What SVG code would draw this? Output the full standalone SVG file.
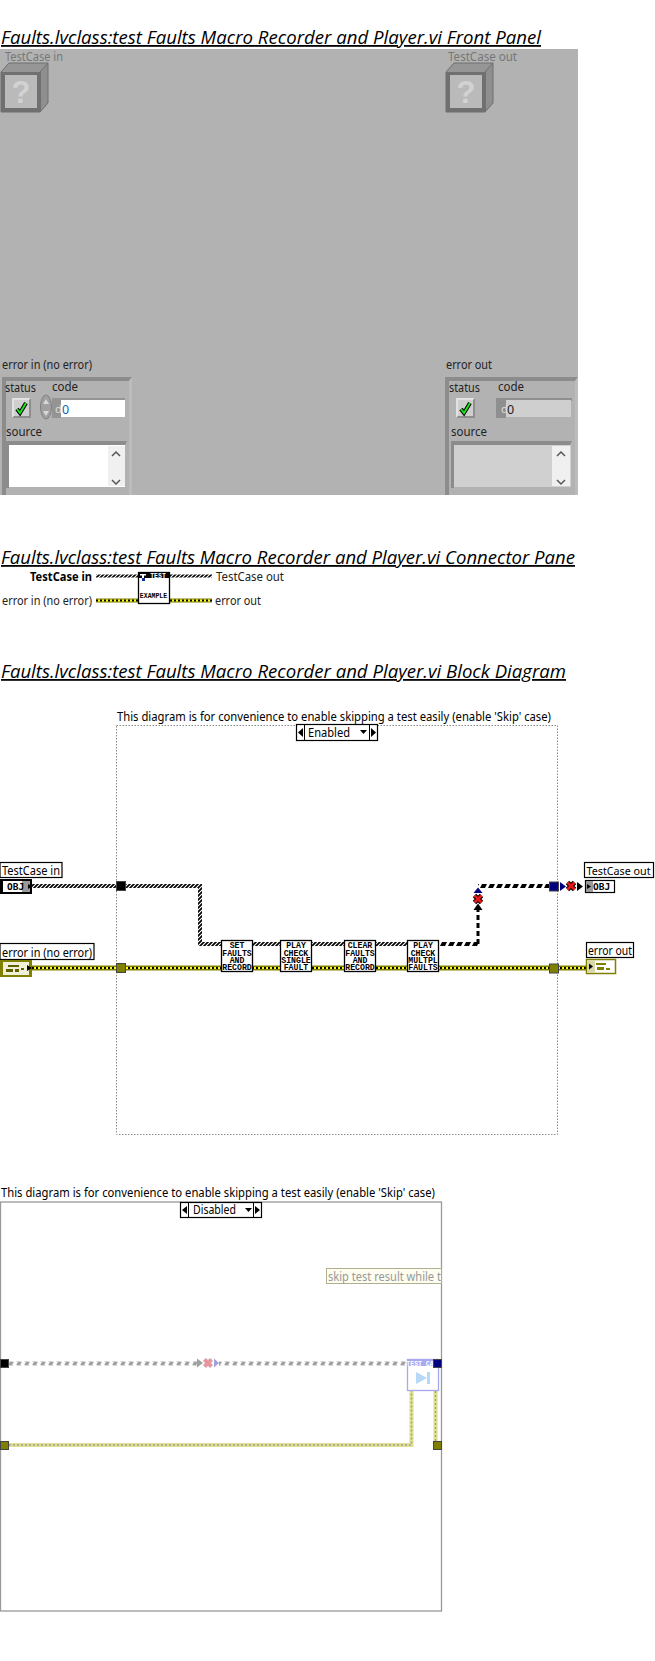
<svg xmlns="http://www.w3.org/2000/svg" width="655" height="1661" viewBox="0 0 655 1661">
<style>
text{font-family:"Noto Sans","Open Sans","Liberation Sans",sans-serif;font-size:12.5px;fill:#000}
.title{font-family:"Open Sans","Noto Sans",sans-serif;font-size:18px;font-style:italic;text-decoration:underline}
.fp{fill:#222}
.dim{fill:#777}
.sub{font-family:"Liberation Mono",monospace;font-size:8.200px;font-weight:bold;text-anchor:middle}
.obj{font-family:"DejaVu Sans Mono",monospace;font-size:9.500px;font-weight:bold}
.node{fill:#fff;stroke:#000;stroke-width:1.3}
.lbl{fill:#fff;stroke:#000;stroke-width:1.2}
.w{fill:none}
.clsA{stroke:url(#stripe);stroke-width:4}
.clsB{stroke:#000;stroke-width:3;stroke-dasharray:5 3}
.clsP{stroke:url(#stripe);stroke-width:3}
.errO{stroke:#808000;stroke-width:5}
.errY{stroke:#ffff20;stroke-width:2}
.errK{stroke:#000;stroke-width:2;stroke-dasharray:2 2}
.fadeO{stroke:#e0e090;stroke-width:4}
.fadeK{stroke:#a0a0a0;stroke-width:1.5;stroke-dasharray:2 2}
.tun{stroke:#444;stroke-width:1}
.dk{fill:#8c8c8c}
.lt{fill:#bcbcbc}
</style>
<defs>
<pattern id="stripe" width="4" height="4" patternUnits="userSpaceOnUse"><rect width="4" height="4" fill="#fff"/><path d="M-1 3L3-1M1 5L5 1" stroke="#000" stroke-width="1.700" fill="none"/></pattern>
<pattern id="blk0" x="0" y="0" width="8" height="4" patternUnits="userSpaceOnUse"><path d="M0 4L2 0H7L5 4Z" fill="#000"/></pattern>
<pattern id="blk2" x="0" y="2" width="8" height="4" patternUnits="userSpaceOnUse"><path d="M0 4L2 0H7L5 4Z" fill="#000"/></pattern>
<pattern id="fadeS" x="0" y="1.500" width="8" height="4" patternUnits="userSpaceOnUse"><path d="M0 4L2 0H6L4 4Z" fill="#a0a0a0"/></pattern>
<g id="unknown">
<path d="M1 18L9 9H48L40 18Z" fill="#969696"/>
<path d="M40 18L48 9V49L40 58Z" fill="#8f8f8f"/>
<path d="M1 18L9 9H48V49L40 58H1Z" fill="none" stroke="#6e6e6e"/>
<path d="M40 18L48 9" stroke="#6e6e6e"/>
<rect x="1" y="18" width="40" height="40" fill="#707070"/>
<rect x="5" y="21" width="32" height="33" fill="#bababa"/>
<text x="21" y="49" text-anchor="middle" style="font-size:31px;font-weight:bold;fill:#d2d2d2;font-family:'Liberation Sans',sans-serif">?</text>
</g>
<g id="check">
<rect x="0" y="0" width="19" height="20" fill="#cfcfcf"/>
<path d="M0 20V0H19L17 2H2V18Z" fill="#e2e2e2"/>
<path d="M0 20H19V0L17 2V18H2Z" fill="#8e8e8e"/>
<path d="M5 11L8 15L14 5" fill="none" stroke="#000" stroke-width="4"/>
<path d="M5 11L8 15L14 5" fill="none" stroke="#20e020" stroke-width="2"/>
</g>
<g id="crossR"><path d="M-3.500-3.500L3.500 3.500M-3.500 3.500L3.500-3.500" stroke="#000" stroke-width="4.800"/><path d="M-3.500-3.500L3.500 3.500M-3.500 3.500L3.500-3.500" stroke="#e81818" stroke-width="2.800"/></g>
<g id="crossF"><path d="M-3.500-3.500L3.500 3.500M-3.500 3.500L3.500-3.500" stroke="#bbb" stroke-width="4.500"/><path d="M-3.500-3.500L3.500 3.500M-3.500 3.500L3.500-3.500" stroke="#f09098" stroke-width="2.800"/></g>
</defs>

<rect width="655" height="1661" fill="#fff"/>

<text class="title" x="1" y="44" textLength="540" lengthAdjust="spacingAndGlyphs">Faults.lvclass:test Faults Macro Recorder and Player.vi Front Panel</text>

<g id="front-panel">
<rect x="0" y="49" width="578" height="446" fill="#b2b2b2"/>
<g id="fp-testcase-in">
<text class="dim" x="5" y="61" textLength="58" lengthAdjust="spacingAndGlyphs">TestCase in</text>
<use href="#unknown" x="0" y="54"/>
</g>
<g id="fp-testcase-out">
<text class="dim" x="448" y="61" textLength="69" lengthAdjust="spacingAndGlyphs">TestCase out</text>
<use href="#unknown" x="445" y="54"/>
</g>
<g id="fp-error-in">
<text class="fp" x="2" y="369" textLength="90" lengthAdjust="spacingAndGlyphs">error in (no error)</text>
<path class="dk" d="M2 495V377H132L129 381H6V495Z"/>
<path class="lt" d="M132 377V495H129V381Z"/>
<text class="fp" x="5" y="392" textLength="31" lengthAdjust="spacingAndGlyphs">status</text>
<text class="fp" x="52" y="391" textLength="26" lengthAdjust="spacingAndGlyphs">code</text>
<use href="#check" x="12" y="398"/>
<ellipse cx="46" cy="407" rx="5.500" ry="12" fill="#a0a0a0" stroke="#808080"/>
<path d="M46 399L43 404H49ZM46 416L43 411H49Z" fill="#d8d8d8"/>
<rect x="52" y="398" width="73" height="3" fill="#949494"/>
<rect x="52" y="398" width="9" height="20" fill="#949494"/>
<rect x="61" y="400" width="64" height="17" fill="#fff"/>
<text x="55" y="413" style="fill:#ddd;font-size:11px">d</text>
<text x="62" y="414" style="fill:#1060c0">0</text>
<text class="fp" x="6" y="436" textLength="36" lengthAdjust="spacingAndGlyphs">source</text>
<path class="dk" d="M6 488V441H127L125 445H9V488Z"/>
<rect x="9" y="445" width="116" height="42" fill="#fff"/>
<rect x="108" y="446" width="17" height="40" fill="#f0f0f0"/>
<path d="M112 456L116 452L120 456M112 480L116 484L120 480" fill="none" stroke="#555" stroke-width="1.500"/>
</g>
<g id="fp-error-out">
<text class="fp" x="446" y="369" textLength="46" lengthAdjust="spacingAndGlyphs">error out</text>
<path class="dk" d="M445 495V377H578L575 381H449V495Z"/>
<path class="lt" d="M578 377V495H575V381Z"/>
<text class="fp" x="449" y="392" textLength="31" lengthAdjust="spacingAndGlyphs">status</text>
<text class="fp" x="498" y="391" textLength="26" lengthAdjust="spacingAndGlyphs">code</text>
<use href="#check" x="456" y="398"/>
<rect x="496" y="398" width="76" height="3" fill="#8f8f8f"/>
<rect x="496" y="398" width="10" height="20" fill="#8f8f8f"/>
<rect x="506" y="400" width="65" height="17" fill="#cfcfcf"/>
<text x="501" y="413" style="fill:#ddd;font-size:11px">d</text>
<text x="507" y="414" style="fill:#222">0</text>
<text class="fp" x="451" y="436" textLength="36" lengthAdjust="spacingAndGlyphs">source</text>
<path class="dk" d="M451 488V441H572L570 445H454V488Z"/>
<rect x="454" y="445" width="117" height="42" fill="#d0d0d0"/>
<rect x="552" y="446" width="18" height="40" fill="#f0f0f0"/>
<path d="M557 456L561 452L565 456M557 480L561 484L565 480" fill="none" stroke="#555" stroke-width="1.500"/>
</g>
</g>

<text class="title" x="1" y="564" textLength="574" lengthAdjust="spacingAndGlyphs">Faults.lvclass:test Faults Macro Recorder and Player.vi Connector Pane</text>

<g id="connector-wires">
<path class="w clsP" d="M96 576H138M170 576H212"/>
<path class="w errO" style="stroke-width:4" d="M96 600.500H138M170 600.500H212"/>
<path class="w errY" d="M96 600.500H138M170 600.500H212"/>
<path class="w errK" d="M96 600.500H138M170 600.500H212"/>

<path class="w clsA" d="M32 886H200V944H221M252 944H280M312 944H344M376 944H407"/>
<path class="w" stroke="url(#blk2)" stroke-width="4" d="M439 944H478"/>
<path class="w clsB" d="M478 944V907"/>
<path class="w" stroke="url(#blk0)" stroke-width="4" d="M478 886H549"/>
<path class="w errO" d="M32 968H586"/>
<path class="w errY" d="M32 968H586"/>
<path class="w errK" d="M32 968H586"/>

<path class="w" stroke="url(#fadeS)" stroke-width="4" d="M9 1363.500H197M219 1363.500H407"/>
<path class="w fadeO" d="M9 1445H411.500V1391M435.500 1391V1441"/>
<path class="w fadeK" d="M9 1445H411.500V1391M435.500 1391V1441"/>
</g>

<g id="connector-pane-icon">
<text x="30" y="581" style="font-weight:bold" textLength="62" lengthAdjust="spacingAndGlyphs">TestCase in</text>
<text class="fp" x="216" y="581" textLength="68" lengthAdjust="spacingAndGlyphs">TestCase out</text>
<text class="fp" x="2" y="605" textLength="90" lengthAdjust="spacingAndGlyphs">error in (no error)</text>
<text class="fp" x="215" y="605" textLength="46" lengthAdjust="spacingAndGlyphs">error out</text>
<rect class="node" x="138.500" y="572.500" width="31" height="31"/>
<rect x="138" y="572" width="32" height="6" fill="#000"/>
<path d="M140 574H146V575.500H144V581H142V575.500H140Z" fill="#fff"/>
<rect x="142" y="578" width="3" height="3" fill="#1030a0"/>
<text class="sub" x="158" y="577.500" style="fill:#fff;font-size:6.500px">TEST</text>
<text class="sub" x="153.500" y="597.500" style="font-size:6.500px">EXAMPLE</text>
</g>

<text class="title" x="1" y="678" textLength="565" lengthAdjust="spacingAndGlyphs">Faults.lvclass:test Faults Macro Recorder and Player.vi Block Diagram</text>

<g id="structure-enabled">
<text x="117" y="721" textLength="434" lengthAdjust="spacingAndGlyphs">This diagram is for convenience to enable skipping a test easily (enable 'Skip' case)</text>
<rect x="116.500" y="725.500" width="441" height="409" fill="none" stroke="#888" stroke-dasharray="1.500 1.500"/>
<rect class="lbl" x="296.500" y="724.500" width="81" height="16"/>
<path d="M304.500 725V740M369.500 725V740" stroke="#000"/>
<path d="M298 732.500L303 728V737ZM376 732.500L371 728V737ZM360 730H367L363.500 734Z" fill="#000"/>
<text x="308" y="737" textLength="42" lengthAdjust="spacingAndGlyphs">Enabled</text>
</g>

<g id="term-testcase-in">
<rect class="lbl" x="0" y="862.500" width="62" height="15"/>
<text x="2" y="875" textLength="58" lengthAdjust="spacingAndGlyphs">TestCase in</text>
<rect x="0" y="879" width="32" height="15" fill="#000"/>
<rect x="3" y="881" width="25" height="11" fill="#fff"/>
<rect x="22" y="881" width="8" height="11" fill="#999"/>
<text class="obj" x="7" y="890">OBJ</text>
<path d="M28 884L32 886.500L28 889Z" fill="#000"/>
</g>
<g id="term-error-in">
<rect class="lbl" x="0" y="943.500" width="94" height="16"/>
<text x="2" y="957" textLength="90" lengthAdjust="spacingAndGlyphs">error in (no error)</text>
<rect x="0" y="960" width="32" height="17" fill="#808000"/>
<rect x="3" y="962" width="26" height="13" fill="#f0f0d8"/>
<path d="M8 965H19V967H8ZM6 969H13V972H6ZM15 969H19V972H15ZM21 968H24V970H21Z" fill="#606000"/>
<path d="M27 965L32 968L27 971Z" fill="#000"/>
</g>
<g id="tunnel-in-class"><rect class="tun" x="116.500" y="881.500" width="9" height="9" fill="#000"/></g>
<g id="tunnel-in-error"><rect class="tun" x="116.500" y="963.500" width="9" height="9" fill="#808000"/></g>

<g id="subvi-set">
<rect class="node" x="221.500" y="940.500" width="31" height="31"/>
<text class="sub" x="237" y="948">SET</text><text class="sub" x="237" y="955.500">FAULTS</text><text class="sub" x="237" y="962.500">AND</text><text class="sub" x="237" y="969.500">RECORD</text>
</g>
<g id="subvi-play-single">
<rect class="node" x="280.500" y="940.500" width="31" height="31"/>
<text class="sub" x="296" y="948">PLAY</text><text class="sub" x="296" y="955.500">CHECK</text><text class="sub" x="296" y="962.500">SINGLE</text><text class="sub" x="296" y="969.500">FAULT</text>
</g>
<g id="subvi-clear">
<rect class="node" x="344.500" y="940.500" width="31" height="31"/>
<text class="sub" x="360" y="948">CLEAR</text><text class="sub" x="360" y="955.500">FAULTS</text><text class="sub" x="360" y="962.500">AND</text><text class="sub" x="360" y="969.500">RECORD</text>
</g>
<g id="subvi-play-multiple">
<rect class="node" x="407.500" y="940.500" width="31" height="31"/>
<text class="sub" x="423" y="948">PLAY</text><text class="sub" x="423" y="955.500">CHECK</text><text class="sub" x="423" y="962.500">MULTPL</text><text class="sub" x="423" y="969.500">FAULTS</text>
</g>

<g id="coercion-vertical">
<path d="M473.500 910L478 903.500L482.500 910Z" fill="#000"/>
<use href="#crossR" x="478" y="899"/>
<path d="M473.500 893L478 887.500L482.500 893Z" fill="#000080"/>
</g>
<g id="tunnel-out-class"><rect class="tun" x="549.500" y="882" width="9" height="9" fill="#000080"/></g>
<g id="tunnel-out-error"><rect class="tun" x="549.500" y="964" width="9" height="9" fill="#808000"/></g>
<g id="coercion-out">
<path d="M560 882L566 886.500L560 891Z" fill="#000080"/>
<use href="#crossR" x="571" y="886"/>
<path d="M577 882L583 886.500L577 891Z" fill="#000"/>
</g>
<g id="term-testcase-out">
<rect class="lbl" x="584.500" y="862.500" width="69" height="15"/>
<text x="586.500" y="875" style="font-size:11px" textLength="64" lengthAdjust="spacingAndGlyphs">TestCase out</text>
<rect class="lbl" x="585.500" y="880.500" width="29" height="12"/>
<rect x="586" y="881" width="7" height="11" fill="#999"/>
<path d="M587 884L591 886.500L587 889Z" fill="#000"/>
<text class="obj" x="593" y="890">OBJ</text>
</g>
<g id="term-error-out">
<rect class="lbl" x="586.500" y="942.500" width="47" height="15"/>
<text x="588" y="955" textLength="44" lengthAdjust="spacingAndGlyphs">error out</text>
<rect x="586.500" y="959.500" width="29" height="14" fill="#fff" stroke="#808000" stroke-width="1.500"/>
<rect x="587" y="960" width="8" height="13" fill="#d8d8a8"/>
<path d="M589 963.500L593 966.500L589 969.500Z" fill="#000"/>
<path d="M596 963H606V965H596ZM597 967H604V970H597ZM606 968H610V970H606Z" fill="#808000"/>
</g>

<g id="structure-disabled">
<text x="1" y="1197" textLength="434" lengthAdjust="spacingAndGlyphs">This diagram is for convenience to enable skipping a test easily (enable 'Skip' case)</text>
<rect x="0.500" y="1202" width="441" height="409" fill="none" stroke="#999" stroke-width="1.300"/>
<rect class="lbl" x="180.500" y="1202.500" width="81" height="15"/>
<path d="M188.500 1203V1217M253.500 1203V1217" stroke="#000"/>
<path d="M182 1210L187 1206V1214ZM260 1210L255 1206V1214ZM245 1208H252L248.500 1212Z" fill="#000"/>
<text x="193" y="1214" textLength="43" lengthAdjust="spacingAndGlyphs">Disabled</text>
</g>
<g id="note-skip">
<rect x="326.500" y="1268.500" width="115" height="15" fill="#fdfdf0" stroke="#b0b090"/>
<text x="328" y="1281" style="fill:#999" textLength="113" lengthAdjust="spacingAndGlyphs">skip test result while t</text>
</g>
<g id="tunnel-dis-class-in"><rect class="tun" x="0.500" y="1359.500" width="8" height="8" fill="#000"/></g>
<g id="tunnel-dis-error-in"><rect class="tun" x="0.500" y="1441.500" width="8" height="8" fill="#808000"/></g>
<g id="coercion-disabled">
<path d="M197 1358.500L203 1363L197 1367.500Z" fill="#a0a0a0"/>
<use href="#crossF" x="208" y="1363"/>
<path d="M214 1358.500L219 1363L214 1367.500Z" fill="#a0a0e0"/>
</g>
<g id="subvi-skip">
<rect x="407.500" y="1359.500" width="31" height="31" fill="#fff" stroke="#a8a8f0" stroke-width="1.300"/>
<rect x="407" y="1359" width="26" height="7" fill="#a8a8f0"/>
<text class="sub" x="420" y="1365.500" style="fill:#fff;font-size:6.500px">TEST CA</text>
<path d="M416 1372L427 1378L416 1384Z" fill="#b8d8f8"/>
<rect x="427" y="1372" width="3" height="12" fill="#b8d8f8"/>
</g>
<g id="tunnel-dis-class-out"><rect class="tun" x="433.500" y="1359.500" width="8" height="8" fill="#000080"/></g>
<g id="tunnel-dis-error-out"><rect class="tun" x="433.500" y="1441.500" width="8" height="8" fill="#808000"/></g>
</svg>
